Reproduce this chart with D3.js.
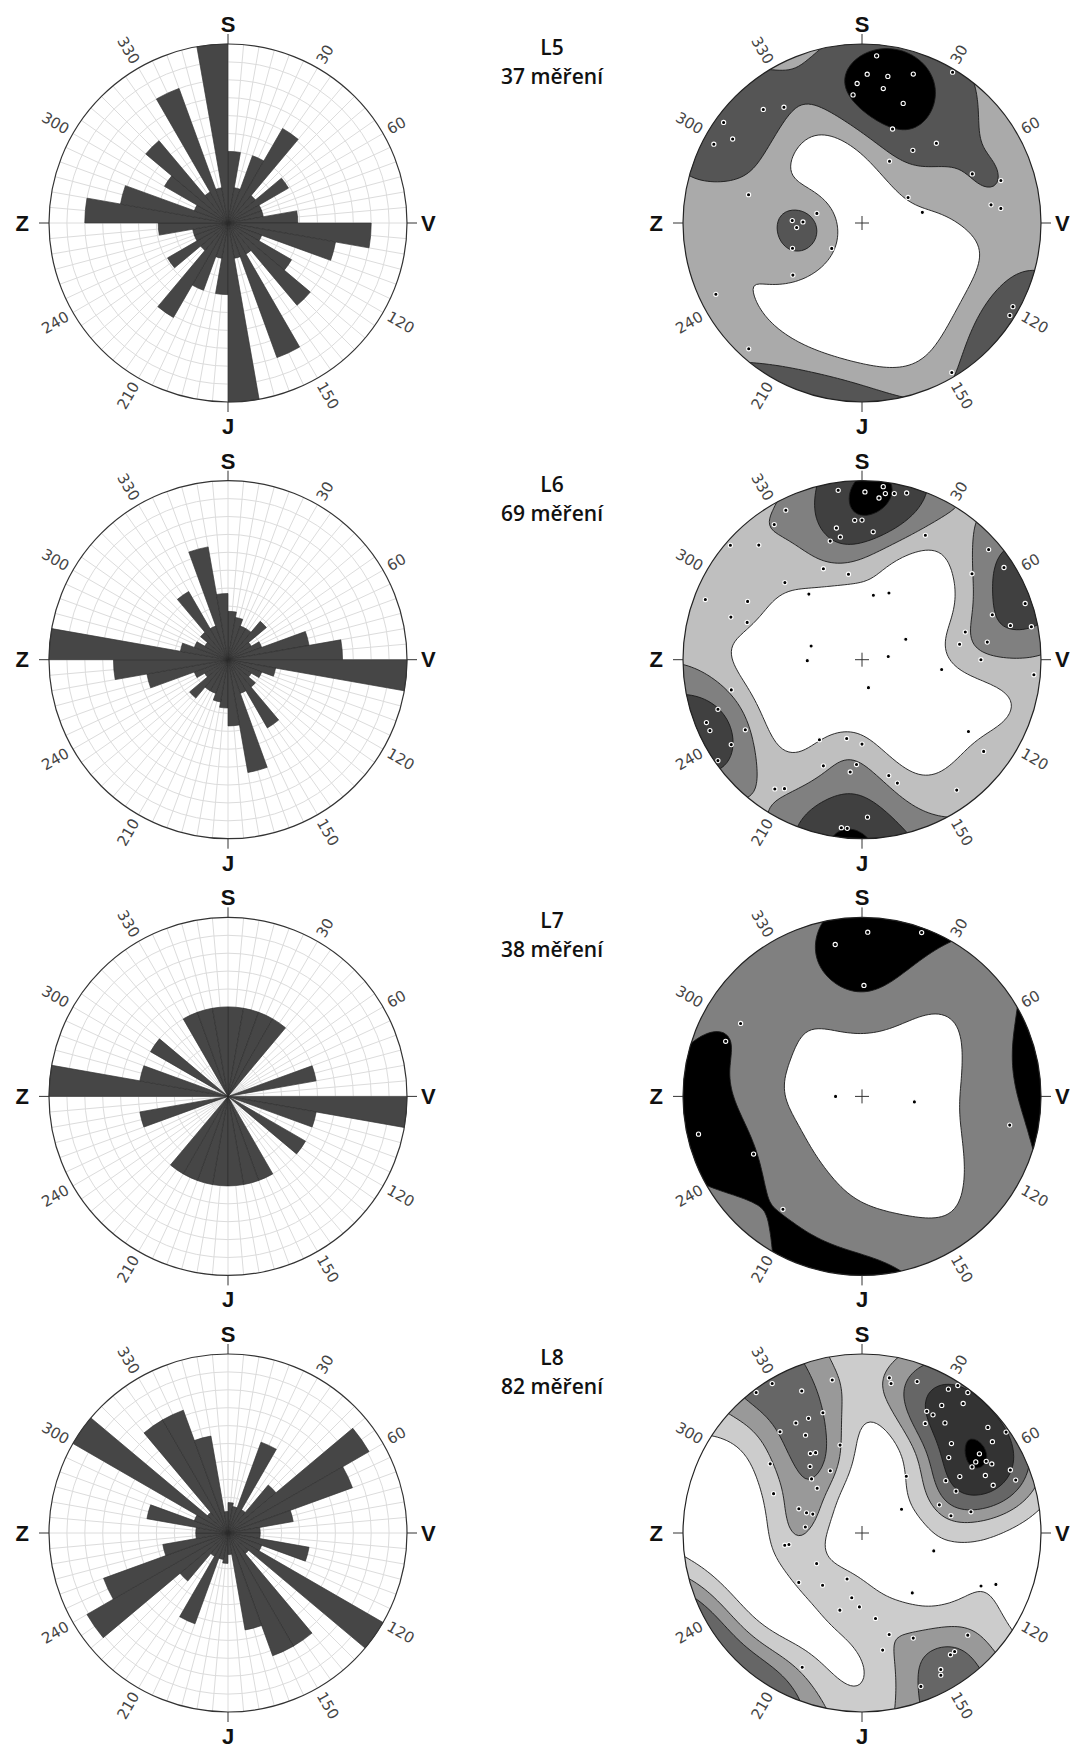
<!DOCTYPE html>
<html>
<head>
<meta charset="utf-8">
<script src="https://cdn.jsdelivr.net/npm/d3@7"></script>
<style>
  body { margin: 0; background: #fff; }
  svg { display: block; }
</style>
</head>
<body>
<div id="chart"></div>
<script>
// ─── data ────────────────────────────────────────────────────────────
const setNames  = ['L5', 'L6', 'L7', 'L8'];
const setCounts = [37, 69, 38, 82];
const countWord = 'měření';

// rose diagrams: relative length of the 10° bins 0–10 … 170–180 (mirrored to 180–360)
const binStarts = d3.range(0, 180, 10);
const roseL5 = [0.40, 0.20, 0.40, 0.61, 0.20, 0.39, 0.20, 0.20, 0.39, 0.80, 0.61, 0.20, 0.41, 0.60, 0.20, 0.80, 0.20, 1.00];
const roseL6 = [0.27, 0.24, 0.20, 0.20, 0.28, 0.15, 0.20, 0.46, 0.64, 1.00, 0.27, 0.20, 0.15, 0.20, 0.44, 0.20, 0.64, 0.37];
const roseL7 = [0.50, 0.50, 0.50, 0.50, 0.00, 0.00, 0.00, 0.50, 0.00, 1.00, 0.50, 0.00, 0.50, 0.00, 0.00, 0.50, 0.50, 0.50];
const roseL8 = [0.17, 0.15, 0.54, 0.15, 0.35, 0.91, 0.74, 0.37, 0.18, 0.18, 0.46, 0.20, 1.00, 0.15, 0.73, 0.73, 0.55, 0.12];

// stereonets (equal-angle, lower hemisphere): trend / plunge of the measured lines
const trendL5  = [5, 2, 10, 19, 358, 9, 356, 19, 31, 319, 326, 306, 298, 303, 18, 43, 35, 73, 24, 66, 82, 84, 61, 80, 284, 282, 230, 233, 244, 222, 149, 272, 271, 266, 250, 119, 122];
const plungeL5 = [3.7, 10.5, 10.5, 7.3, 14.1, 15.5, 18.7, 19.5, 1.0, 9.9, 14.1, 2.6, 3.7, 8.5, 32.2, 27.3, 37.3, 11.9, 48.6, 22.0, 17.9, 14.1, 57.2, 52.2, 23.7, 61.1, 65.1, 38.4, 5.5, 3.2, 1.5, 47.4, 53.5, 49.8, 45.1, 2.1, 1.5];

const trendL6  = [352, 1, 7, 8, 6, 15, 357, 0, 349, 350, 345, 5, 333, 327, 311, 318, 27, 337, 351, 315, 291, 297, 288, 288, 52, 75, 81, 90, 71, 49, 57, 82, 77, 71, 79, 95, 321, 10, 22, 285, 269, 65, 83, 167, 97, 124, 257, 251, 239, 208, 191, 180, 200, 183, 186, 167, 164, 144, 127, 237, 214, 211, 178, 187, 185, 248, 245, 235, 11];
const plungeL6 = [2.6, 3.7, 1.5, 3.7, 5.5, 2.1, 14.1, 14.1, 16.3, 20.3, 21.1, 18.7, 3.7, 6.0, 1.5, 8.5, 14.1, 32.2, 38.4, 27.3, 3.7, 18.7, 14.8, 22.0, 14.1, 28.3, 32.2, 22.8, 14.8, 3.7, 3.2, 19.5, 9.2, 2.1, 2.1, 2.1, 39.5, 49.8, 46.2, 57.2, 56.0, 59.8, 73.2, 71.8, 41.7, 18.7, 16.3, 9.2, 15.5, 36.3, 41.7, 39.5, 25.5, 29.2, 25.5, 22.8, 18.7, 6.0, 9.2, 7.9, 7.9, 9.9, 7.3, 3.2, 3.2, 3.7, 3.7, 1.0, 3.2];

// L7: many measurements plot on top of each other, multiplicity estimated
const trendL7  = [2, 350, 20, 1, 301, 292, 257, 242, 215, 270, 96, 101];
const plungeL7 = [4.9, 8.5, 1.5, 26.4, 13.3, 11.2, 3.7, 21.1, 14.8, 73.2, 57.2, 9.9];
const countL7  = [3, 4, 3, 4, 3, 3, 7, 3, 4, 1, 1, 2];

const trendL8  = [329, 323, 337, 349, 329, 335, 342, 321, 330, 327, 330, 322, 307, 317, 315, 294, 291, 290, 291, 276, 333, 346, 261, 261, 236, 232, 217, 198, 189, 182, 196, 171, 165, 154, 170, 134, 204, 144, 142, 150, 151, 159, 38, 59, 104, 140, 114, 111, 10, 11, 20, 28, 31, 30, 31, 33, 37, 38, 32, 37, 45, 49, 50, 55, 55, 56, 58, 60, 62, 59, 65, 67, 71, 70, 60, 58, 66, 70, 79, 79];
const plungeL8 = [1.5, 1.0, 8.5, 7.9, 18.7, 19.5, 19.5, 17.9, 25.5, 34.2, 35.2, 39.5, 24.6, 45.1, 51.0, 33.2, 48.6, 53.5, 57.2, 54.7, 47.4, 36.3, 42.8, 45.1, 56.0, 41.7, 49.8, 59.8, 49.8, 45.1, 41.7, 38.4, 29.2, 23.7, 22.8, 11.2, 11.2, 9.9, 9.9, 7.3, 5.5, 4.9, 46.2, 61.1, 45.1, 42.8, 17.9, 12.6, 7.3, 9.2, 6.0, 14.8, 14.8, 19.5, 3.7, 1.0, 1.0, 4.9, 9.9, 14.8, 19.5, 24.6, 4.9, 1.0, 6.7, 13.3, 16.3, 12.6, 11.2, 18.7, 15.5, 6.0, 5.5, 14.1, 25.5, 32.2, 30.2, 40.6, 36.3, 26.4];

// contour levels, as fractions of the maximum density of each net
const levelsL5 = [0.36, 0.57, 0.80];
const levelsL6 = [0.30, 0.48, 0.66, 0.93];
const levelsL7 = [0.19, 0.70];
const levelsL8 = [0.20, 0.35, 0.50, 0.70, 0.97];

const degreeTicks = [30, 60, 120, 150, 210, 240, 300, 330];
const compass = [
  { label: 'S', az: 0 },
  { label: 'V', az: 90 },
  { label: 'J', az: 180 },
  { label: 'Z', az: 270 }
];

// ─── layout ─────────────────────────────────────────────────────────
const W = 1076, H = 1749;
const R = 179;
const roseX = 228, netX = 862, labelX = 552;
const rowY = [223, 659.7, 1096.4, 1533];

const rad = d => d * Math.PI / 180;

const svg = d3.select('#chart').append('svg')
  .attr('width', W).attr('height', H)
  .attr('viewBox', [0, 0, W, H]);
const defs = svg.append('defs');

function frame(g) {
  g.selectAll('line.ctick')
    .data(compass)
    .join('line')
      .attr('class', 'ctick')
      .attr('x1', d => R * Math.sin(rad(d.az)))
      .attr('y1', d => -R * Math.cos(rad(d.az)))
      .attr('x2', d => (R + 10) * Math.sin(rad(d.az)))
      .attr('y2', d => -(R + 10) * Math.cos(rad(d.az)))
      .attr('stroke', '#333').attr('stroke-width', 1);

  const pos = {
    S: { x: 0, y: -(R + 12), anchor: 'middle', base: 'alphabetic' },
    J: { x: 0, y: R + 32, anchor: 'middle', base: 'alphabetic' },
    Z: { x: -(R + 20), y: 0, anchor: 'end', base: 'central' },
    V: { x: R + 14, y: 0, anchor: 'start', base: 'central' }
  };
  g.selectAll('text.compass')
    .data(compass)
    .join('text')
      .attr('class', 'compass')
      .attr('x', d => pos[d.label].x)
      .attr('y', d => pos[d.label].y)
      .attr('text-anchor', d => pos[d.label].anchor)
      .attr('dominant-baseline', d => pos[d.label].base)
      .attr('font-family', '"Liberation Sans", Arial, sans-serif')
      .attr('font-weight', 'bold')
      .attr('font-size', 22)
      .attr('fill', '#111')
      .text(d => d.label);

  g.selectAll('text.deg')
    .data(degreeTicks)
    .join('text')
      .attr('class', 'deg')
      .attr('transform', d => {
        const x = (R + 6) * Math.sin(rad(d)), y = -(R + 6) * Math.cos(rad(d));
        const rot = d < 180 ? d - 90 : d - 270;
        return `translate(${x},${y}) rotate(${rot})`;
      })
      .attr('text-anchor', d => d < 180 ? 'start' : 'end')
      .attr('dominant-baseline', 'central')
      .attr('font-family', '"DejaVu Sans", sans-serif')
      .attr('font-size', 15)
      .attr('fill', '#444')
      .text(d => d);
}

/* ─── rose diagram ─────────────────────────────────────────────────── */
function drawRose(cy, values) {
  const g = svg.append('g').attr('transform', `translate(${roseX},${cy})`);
  const r = d3.scaleLinear().domain([0, 1]).range([0, R]);

  g.append('circle').attr('r', R).attr('fill', '#fff');

  const grid = g.append('g').attr('stroke', '#dcdcdc').attr('stroke-width', 1).attr('fill', 'none');
  grid.selectAll('circle')
    .data(d3.range(1, 10).map(i => i / 10))
    .join('circle')
      .attr('r', d => r(d));
  grid.selectAll('line')
    .data(d3.range(0, 360, 5))
    .join('line')
      .attr('x1', 0).attr('y1', 0)
      .attr('x2', d => R * Math.sin(rad(d)))
      .attr('y2', d => -R * Math.cos(rad(d)));

  const bins = binStarts.flatMap((a, i) => [
    { a0: a, v: values[i] },
    { a0: a + 180, v: values[i] }
  ]);
  const arc = d3.arc()
    .innerRadius(0)
    .outerRadius(d => r(d.v))
    .startAngle(d => rad(d.a0))
    .endAngle(d => rad(d.a0 + 10));

  g.append('g').selectAll('path')
    .data(bins.filter(d => d.v > 0))
    .join('path')
      .attr('d', arc)
      .attr('fill', '#464646')
      .attr('stroke', '#2b2b2b')
      .attr('stroke-width', 0.6);

  g.append('circle').attr('r', R).attr('fill', 'none').attr('stroke', '#333').attr('stroke-width', 1.2);
  frame(g);
}

/* ─── stereonet with exponential-Kamb density contours ─────────────── */
const wulff = p => Math.tan(rad(90 - p) / 2);          // plunge → net radius (0..1)

function drawNet(cy, idx, trends, plunges, weights, levels) {
  const g = svg.append('g').attr('transform', `translate(${netX},${cy})`);
  const w = weights || trends.map(() => 1);
  const n = d3.sum(w);
  const kappa = 2 * (1 + n / 9);
  const vecs = trends.map((t, i) => {
    const tr = rad(t), pl = rad(plunges[i]);
    return [Math.cos(pl) * Math.sin(tr), Math.cos(pl) * Math.cos(tr), Math.sin(pl)];
  });

  const G = 120, ext = 1.08;
  const gridToUnit = d3.scaleLinear().domain([0.5, G - 0.5]).range([-ext, ext]);
  const gridToPx   = d3.scaleLinear().domain([0.5, G - 0.5]).range([-ext * R, ext * R]);

  const values = new Float64Array(G * G);
  let maxIn = 0;
  for (let j = 0; j < G; j++) {
    for (let i = 0; i < G; i++) {
      const ux = gridToUnit(i + 0.5), uy = -gridToUnit(j + 0.5);
      const rho = Math.hypot(ux, uy);
      const pl = Math.PI / 2 - 2 * Math.atan(rho);
      const tr = Math.atan2(ux, uy);
      const u = [Math.cos(pl) * Math.sin(tr), Math.cos(pl) * Math.cos(tr), Math.sin(pl)];
      let s = 0;
      for (let k = 0; k < vecs.length; k++) {
        const v = vecs[k];
        const c = Math.abs(u[0] * v[0] + u[1] * v[1] + u[2] * v[2]);
        s += w[k] * Math.exp(kappa * (c - 1));
      }
      values[i + j * G] = s;
      if (rho <= 1 && s > maxIn) maxIn = s;
    }
  }

  const contours = d3.contours()
    .size([G, G])
    .thresholds(levels.map(f => f * maxIn))(values);

  const path = d3.geoPath(d3.geoTransform({
    point(x, y) { this.stream.point(gridToPx(x), gridToPx(y)); }
  }));

  const L = levels.length;
  const grey = i => { const v = Math.round(255 * (1 - (i + 1) / L)); return `rgb(${v},${v},${v})`; };

  const clipId = `net-clip-${idx}`;
  defs.append('clipPath').attr('id', clipId).append('circle').attr('r', R);

  g.append('circle').attr('r', R).attr('fill', '#fff');
  g.append('g')
      .attr('clip-path', `url(#${clipId})`)
    .selectAll('path')
    .data(contours)
    .join('path')
      .attr('d', path)
      .attr('fill', (d, i) => grey(i))
      .attr('stroke', '#1a1a1a')
      .attr('stroke-width', 0.9);

  const sx = d3.scaleLinear().domain([-1, 1]).range([-R, R]);
  const sy = d3.scaleLinear().domain([-1, 1]).range([R, -R]);
  const pts = trends.map((t, i) => {
    const rho = wulff(plunges[i]);
    return { x: rho * Math.sin(rad(t)), y: rho * Math.cos(rad(t)) };
  });
  g.append('g').selectAll('circle')
    .data(pts)
    .join('circle')
      .attr('cx', d => sx(d.x))
      .attr('cy', d => sy(d.y))
      .attr('r', 2.1)
      .attr('fill', '#000')
      .attr('stroke', '#fff')
      .attr('stroke-width', 1.1);

  g.append('path')
    .attr('d', 'M-7,0H7M0,-7V7')
    .attr('stroke', '#333').attr('stroke-width', 1);

  g.append('circle').attr('r', R).attr('fill', 'none').attr('stroke', '#222').attr('stroke-width', 1.2);
  frame(g);
}

/* ─── rows ─────────────────────────────────────────────────────────── */
const roses   = [roseL5, roseL6, roseL7, roseL8];
const trends  = [trendL5, trendL6, trendL7, trendL8];
const plunges = [plungeL5, plungeL6, plungeL7, plungeL8];
const weights = [null, null, countL7, null];
const levels  = [levelsL5, levelsL6, levelsL7, levelsL8];

rowY.forEach((cy, i) => {
  drawRose(cy, roses[i]);
  drawNet(cy, i, trends[i], plunges[i], weights[i], levels[i]);

  const lab = svg.append('g')
    .attr('font-family', '"Open Sans", "Noto Sans", sans-serif')
    .attr('font-size', 21)
    .attr('font-weight', 600)
    .attr('fill', '#111')
    .attr('text-anchor', 'middle');
  lab.append('text').attr('x', labelX).attr('y', cy - 168).text(setNames[i]);
  lab.append('text').attr('x', labelX).attr('y', cy - 139).text(`${setCounts[i]} ${countWord}`);
});
</script>
</body>
</html>
